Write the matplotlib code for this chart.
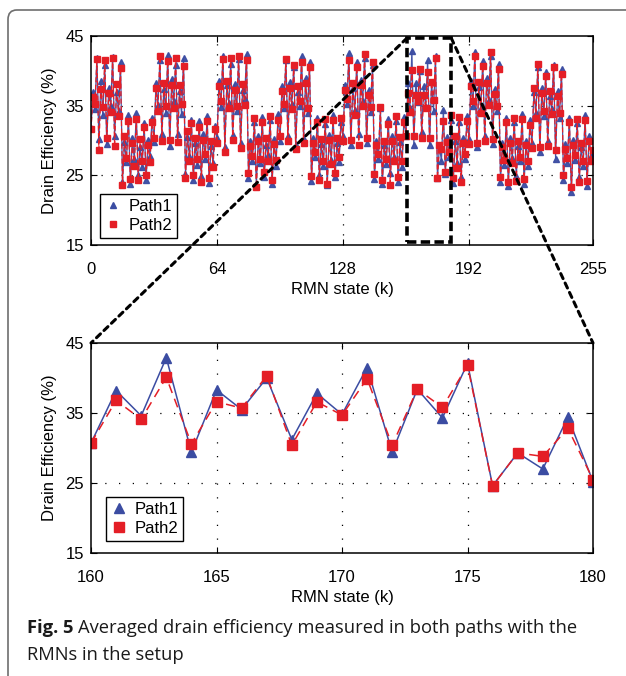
import numpy as np
import matplotlib
matplotlib.use("Agg")
import matplotlib.pyplot as plt
from matplotlib.lines import Line2D
from matplotlib.patches import Rectangle, FancyBboxPatch, ConnectionPatch

plt.rcParams['font.family'] = ['Liberation Sans', 'DejaVu Sans']

# averaged drain efficiency (%) per RMN state k = 0..255
path1 = [
    31.8, 37.0, 34.5, 41.9, 30.2, 38.5, 33.6, 40.8, 29.5, 37.6, 35.0, 42.0, 30.6, 36.9, 34.2, 41.2,
    24.0, 29.8, 26.9, 33.6, 23.8, 30.4, 27.3, 33.9, 25.1, 29.0, 26.2, 32.5, 24.4, 30.1, 27.8, 33.2,
    29.8, 38.2, 35.1, 41.5, 30.9, 37.4, 34.0, 42.3, 29.2, 38.8, 35.6, 40.9, 31.0, 37.1, 33.8, 41.8,
    25.2, 30.5, 27.8, 33.0, 24.3, 29.6, 26.5, 32.8, 24.9, 30.9, 27.4, 33.5, 23.9, 29.2, 26.8, 32.1,
    30.4, 38.6, 34.8, 42.2, 29.1, 37.9, 35.4, 41.0, 30.8, 38.1, 34.3, 41.7, 29.6, 37.3, 35.9, 42.4,
    24.6, 29.9, 27.1, 32.7, 23.5, 30.6, 26.7, 33.4, 24.8, 29.4, 27.9, 32.9, 23.7, 30.2, 26.4, 33.8,
    29.9, 37.8, 34.6, 41.6, 30.7, 38.4, 35.2, 40.6, 29.3, 37.0, 34.9, 42.1, 30.2, 38.9, 33.9, 41.3,
    24.2, 30.3, 27.6, 33.2, 25.0, 29.5, 26.3, 32.4, 23.6, 30.8, 27.2, 33.7, 24.7, 29.7, 26.9, 32.6,
    30.6, 38.0, 35.3, 42.5, 29.4, 37.6, 34.4, 41.2, 30.9, 38.7, 35.7, 41.9, 29.7, 37.2, 34.1, 40.9,
    24.5, 30.0, 27.3, 34.6, 23.7, 29.3, 26.6, 33.1, 25.3, 30.7, 27.7, 32.8, 24.0, 29.8, 26.2, 33.4,
    30.7, 38.2, 34.6, 42.9, 29.4, 38.3, 35.5, 40.0, 31.2, 37.8, 34.8, 41.5, 29.4, 38.4, 34.3, 42.1,
    24.6, 29.3, 27.0, 34.4, 25.2, 30.5, 27.6, 33.0, 23.9, 29.9, 26.8, 32.7, 24.8, 30.3, 27.4, 33.5,
    30.2, 38.5, 35.0, 42.7, 29.0, 37.7, 34.7, 41.4, 30.6, 38.9, 35.8, 42.2, 29.5, 37.4, 34.2, 41.0,
    24.1, 29.7, 26.5, 33.3, 23.4, 30.4, 27.5, 32.6, 24.9, 29.2, 27.0, 33.8, 23.8, 30.0, 26.3, 32.9,
    29.6, 36.9, 34.0, 40.6, 28.3, 37.5, 33.5, 39.8, 29.9, 36.4, 34.5, 40.9, 27.4, 37.1, 33.2, 40.2,
    24.3, 29.5, 26.8, 33.2, 22.6, 30.1, 27.2, 32.5, 24.7, 29.0, 26.4, 33.6, 23.5, 30.6, 27.8, 28.2,
]
path2 = [
    31.6, 36.2, 35.3, 41.7, 28.7, 37.4, 34.8, 41.6, 30.3, 36.8, 34.1, 41.8, 29.2, 38.1, 33.5, 40.4,
    23.6, 30.6, 27.5, 32.8, 24.5, 29.6, 26.4, 33.1, 24.3, 30.2, 27.0, 31.9, 25.0, 29.4, 26.9, 32.6,
    30.4, 37.5, 34.3, 42.1, 29.9, 38.3, 35.0, 41.4, 30.1, 37.9, 34.7, 41.9, 29.8, 38.0, 35.2, 40.7,
    24.6, 31.3, 27.0, 32.5, 25.1, 30.3, 27.4, 31.9, 24.1, 30.1, 28.1, 32.8, 24.6, 29.9, 26.2, 31.6,
    29.6, 37.8, 35.6, 41.7, 28.3, 38.5, 34.7, 41.9, 30.1, 37.2, 35.0, 42.2, 28.9, 38.1, 35.1, 41.6,
    25.3, 29.2, 27.8, 33.2, 23.3, 29.9, 27.4, 32.6, 25.5, 30.3, 27.1, 33.5, 24.4, 29.5, 27.2, 32.9,
    30.6, 37.1, 35.3, 41.7, 29.9, 37.6, 34.5, 40.8, 28.8, 37.8, 35.6, 41.3, 29.6, 38.2, 34.6, 40.5,
    24.9, 29.6, 28.3, 32.7, 24.3, 30.2, 27.0, 33.1, 23.8, 30.1, 26.6, 32.9, 25.3, 30.4, 27.6, 33.3,
    29.9, 37.3, 36.0, 41.6, 30.1, 38.3, 33.7, 40.5, 29.3, 37.9, 35.0, 42.4, 30.4, 36.5, 34.8, 41.3,
    25.2, 29.3, 28.0, 34.8, 24.4, 30.0, 27.3, 32.4, 23.6, 29.9, 27.0, 33.5, 24.7, 30.5, 27.0, 32.7,
    30.7, 36.8, 34.1, 40.1, 30.6, 36.6, 35.7, 40.3, 30.4, 36.6, 34.7, 39.9, 30.4, 38.4, 35.8, 41.8,
    24.6, 29.3, 28.8, 32.8, 25.5, 29.8, 28.3, 33.6, 24.6, 30.6, 26.1, 33.4, 24.1, 29.6, 28.1, 32.8,
    29.5, 37.8, 35.7, 42.2, 29.7, 38.4, 34.0, 40.7, 29.9, 38.2, 35.1, 42.7, 30.2, 36.7, 34.9, 40.3,
    24.8, 29.0, 27.2, 32.6, 24.1, 29.7, 26.8, 33.3, 24.2, 30.0, 27.7, 33.1, 24.5, 29.3, 27.0, 32.2,
    28.9, 37.6, 33.3, 41.0, 29.0, 36.8, 34.2, 39.2, 29.2, 37.1, 33.8, 40.5, 28.6, 36.4, 33.9, 39.5,
    25.0, 28.8, 27.5, 32.6, 23.3, 29.4, 27.9, 33.1, 24.0, 29.7, 27.1, 32.9, 24.2, 29.9, 27.1, 28.6,
]
states = np.arange(len(path1))

top_xticks = [0, 64, 128, 192, 255]
zoom_lo, zoom_hi = 160, 180
zoom_xticks = [160, 165, 170, 175, 180]
yticks = [15, 25, 35, 45]

BLUE = '#3b4ca2'
RED = '#e41e26'

W, H = 626, 676
fig = plt.figure(figsize=(W / 100, H / 100), dpi=100)


def frac(x0, y0, x1, y1):
    # pixel box (top-left origin) -> figure fraction rect
    return [x0 / W, 1 - y1 / H, (x1 - x0) / W, (y1 - y0) / H]


def style_axes(ax, xticks, dots):
    ax.set_ylim(15, 45)
    ax.set_yticks(yticks)
    ax.set_xticks(xticks)
    ax.tick_params(direction='in', top=True, right=True, length=4,
                   labelsize=12, width=0.8, pad=5)
    ax.tick_params(axis='x', pad=12)
    for s in ax.spines.values():
        s.set_linewidth(1.1)
    for v in yticks[1:-1]:
        ax.axhline(v, color='k', lw=0.9, ls=(0, dots), zorder=0.5)
    for v in xticks[1:-1]:
        ax.axvline(v, color='k', lw=0.9, ls=(0, dots), zorder=0.5)
    ax.set_ylabel('Drain Efficiency (%)', fontsize=12, labelpad=6)
    ax.set_xlabel('RMN state (k)', fontsize=12, labelpad=4)


def add_legend(ax, ms, anchor):
    hs = [Line2D([], [], ls='none', marker='^', color=BLUE, ms=ms),
          Line2D([], [], ls='none', marker='s', color=RED, ms=ms)]
    lg = ax.legend(hs, ['Path1', 'Path2'], loc='lower left', bbox_to_anchor=anchor,
                   fontsize=12, frameon=True, fancybox=False, framealpha=1,
                   handlelength=1.0, handletextpad=0.4, borderpad=0.3,
                   labelspacing=0.25, borderaxespad=0)
    lg.get_frame().set_edgecolor('k')
    lg.get_frame().set_linewidth(1.0)


# full sweep over all states
ax1 = fig.add_axes(frac(91, 36, 593, 245))
ax1.plot(states, path1, color=BLUE, lw=0.9, marker='^', ms=4, mec=BLUE, alpha=0.95)
ax1.plot(states, path2, color=RED, lw=0.9, ls=(0, (4, 2)), marker='s', ms=3.8, mec=RED)
ax1.set_xlim(0, 255)
style_axes(ax1, top_xticks, (1, 7))
add_legend(ax1, 5, (0.018, 0.035))
ax1.add_patch(Rectangle((zoom_lo + 0.5, 15.4), 22.5, 29.3, fill=False, ec='k',
                        lw=2.6, ls=(0, (2.6, 1.2)), zorder=6))

# close-up of states 160..180
sub = slice(zoom_lo, zoom_hi + 1)
ax2 = fig.add_axes(frac(91, 343, 593, 553))
ax2.plot(states[sub], path1[sub], color=BLUE, lw=1.1, marker='^', ms=7, mec=BLUE)
ax2.plot(states[sub], path2[sub], color=RED, lw=1.1, ls=(0, (6, 4)), marker='s', ms=7.5, mec=RED)
ax2.set_xlim(zoom_lo, zoom_hi)
style_axes(ax2, zoom_xticks, (1, 10))
add_legend(ax2, 7.5, (0.03, 0.057))

# dashed connectors from the highlighted window to the close-up
for xa, xb in [(zoom_lo + 0.5, zoom_lo), (zoom_lo + 23, zoom_hi)]:
    con = ConnectionPatch(xyA=(xa, 44.7), coordsA=ax1.transData,
                          xyB=(xb, 45), coordsB=ax2.transData,
                          color='k', lw=2.2, ls=(0, (1.8, 1.6)), zorder=7)
    fig.add_artist(con)

# rounded panel border
border = FancyBboxPatch((8 / W, -0.1), 1.2, 1 - 10 / H + 0.1,
                        boxstyle='round,pad=0,rounding_size=0.014',
                        transform=fig.transFigure, fill=False, ec='#6e6e6e', lw=1.2)
fig.add_artist(border)

# caption
cap_font = ['Open Sans', 'DejaVu Sans']
cap_size = 13.2
t1 = fig.text(27 / W, 1 - 628 / H, 'Fig. 5', fontsize=cap_size, fontweight='bold',
              family=cap_font, va='center', color='#1a1a1a')
fig.canvas.draw()
bb = t1.get_window_extent()
fig.text((bb.x1 + 5) / W, 1 - 628 / H, 'Averaged drain efficiency measured in both paths with the',
         fontsize=cap_size, family=cap_font, va='center', color='#1a1a1a')
fig.text(27 / W, 1 - 655 / H, 'RMNs in the setup', fontsize=cap_size, family=cap_font,
         va='center', color='#1a1a1a')

fig.savefig('out.png', dpi=100)
